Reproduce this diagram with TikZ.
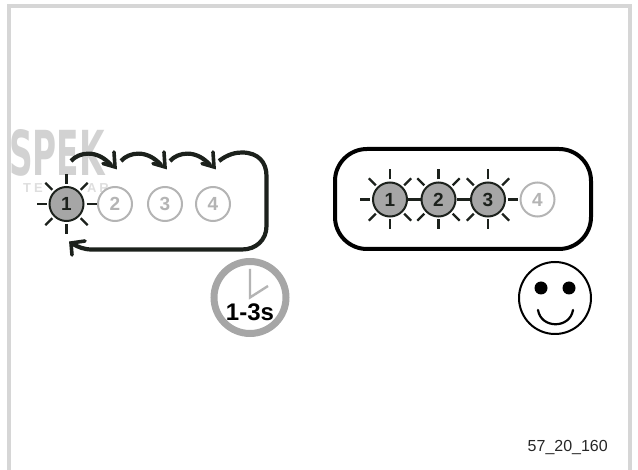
\documentclass[tikz,border=0pt]{standalone}
\usepackage{fontspec}
\setmainfont{Liberation Sans}
\newfontfamily\wmfont{DejaVu Sans}
\usetikzlibrary{calc}
\definecolor{darkink}{HTML}{1C211C}
\definecolor{ledfill}{HTML}{A6A6A6}
\definecolor{ledoff}{HTML}{B4B4B4}
\definecolor{framegray}{HTML}{D6D6D6}
\definecolor{wmark}{HTML}{D2D2D2}
\definecolor{wmarksmall}{HTML}{DEDEDE}
\tikzset{
  x=1pt,y=-1pt,
  ledon/.style={circle,draw=darkink,line width=2pt,fill=ledfill,minimum size=34pt,inner sep=0pt,text=darkink,font=\bfseries\fontsize{19}{19}\selectfont},
  ledout/.style={circle,draw=ledoff,line width=2pt,fill=white,minimum size=34pt,inner sep=0pt,text=ledoff,font=\bfseries\fontsize{19}{19}\selectfont},
  ray/.style={darkink,line width=2.2pt},
  flow/.style={darkink,line width=4.2pt},
  barb/.style={darkink,line width=3.6pt,line cap=round,line join=miter}
}
\newcommand{\rays}[2]{%
  \foreach \a in {#2}{\draw[ray] ($(#1)+(\a:20)$) -- ($(#1)+(\a:30)$);}}
\newcommand{\hop}[2]{%
  \draw[flow] (#1,161) .. controls (#1+8,152) and (#1+26,149) .. (#2-4,165);
  \draw[barb] (#2-1,152) -- (#2,167) -- (#2-12,163.5);}
\begin{document}
\begin{tikzpicture}
\useasboundingbox (0,0) rectangle (638,470);
% watermark
\node[anchor=west,text=wmark,inner sep=0pt,font=\wmfont\bfseries\fontsize{62}{62}\selectfont,xscale=.53] (wm) at (9,153) {SPEK};
\node[anchor=center,text=wmarksmall,inner sep=0pt,font=\bfseries\fontsize{13}{13}\selectfont] (wt) at (33,188) {T\hspace{3pt}E};
\node[anchor=center,text=wmarksmall,inner sep=0pt,font=\bfseries\fontsize{13}{13}\selectfont] (wa) at (98,188) {A\hspace{3pt}R};
% frame
\draw[framegray,line width=4pt] (9,470) -- (9,6) -- (630,6) -- (630,470);
% left LEDs
\node[ledon] (a1) at (66.5,204) {1};
\node[ledout] (a2) at (115,204) {2};
\node[ledout] (a3) at (165,204) {3};
\node[ledout] (a4) at (213,204) {4};
\rays{a1}{0,45,90,135,180,225,270,315}
\hop{71}{115}
\hop{121}{165}
\hop{170}{214}
\draw[flow] (219,161) .. controls (228,154) and (236,152.5) .. (242,152.5)
  .. controls (258,152.5) and (266.5,162) .. (266.5,176)
  -- (266.5,226) .. controls (266.5,240) and (256,249.5) .. (242,249.5)
  -- (92,249.5) .. controls (84,249.5) and (78,247) .. (73,244);
\draw[barb] (85,241) -- (71,243) -- (72,255);
% right box
\draw[black,line width=4pt,rounded corners=32pt] (335,149) rectangle (591,249);
\node[ledon] (b1) at (390,199.5) {1};
\node[ledon] (b2) at (438.5,199.5) {2};
\node[ledon] (b3) at (488,199.5) {3};
\node[ledout] (b4) at (537.5,199.5) {4};
\rays{b1}{45,90,135,180,225,270,315}
\rays{b2}{45,90,135,225,270,315}
\rays{b3}{0,45,90,135,225,270,315}
\draw[ray] (b1) -- (b2);
\draw[ray] (b2) -- (b3);
% clock
\node[circle,draw=ledfill,line width=7pt,minimum size=72pt,inner sep=0pt,fill=white] (clock) at (250,297.5) {};
\coordinate (h1) at (250,269);
\coordinate (h2) at (268,286);
\draw[ledoff,line width=2.4pt] (h1) -- (clock.center) -- (h2);
\node[inner sep=0pt,font=\bfseries\fontsize{24}{24}\selectfont] (clk) at (250,312) {1-3s};
% smiley
\node[circle,draw=black,line width=2pt,minimum size=72pt,inner sep=0pt] (face) at (555,298) {};
\fill (541,288) circle (6.5);
\fill (569,288) circle (6.5);
\draw[black,line width=2.2pt,line cap=round] (538,310) .. controls (541,329) and (570,329) .. (573,310);
% label
\node[anchor=east,inner sep=0pt,font=\fontsize{16}{18}\selectfont,text=black!85] (lab) at (608,448) {57\_20\_160};
\end{tikzpicture}
\end{document}
